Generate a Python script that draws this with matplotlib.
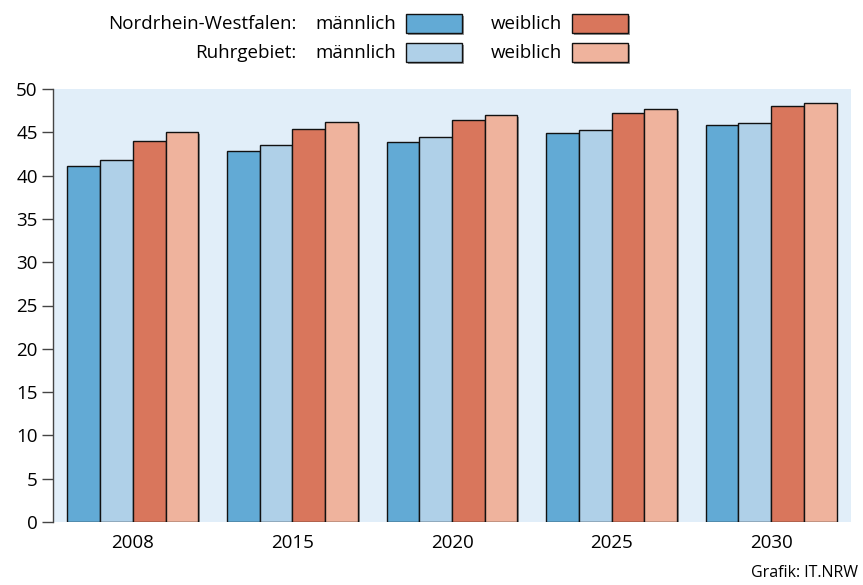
import numpy as np
import matplotlib
matplotlib.use('Agg')
import matplotlib.pyplot as plt
import matplotlib.patches as mpatches
import matplotlib.patheffects as pe

plt.rcParams['font.family'] = ['Open Sans', 'DejaVu Sans']

# data (average age, years)
years = ['2008', '2015', '2020', '2025', '2030']
nrw_m = [41.1, 42.8, 43.9, 44.9, 45.8]
ruhr_m = [41.8, 43.5, 44.5, 45.3, 46.1]
nrw_w = [44.0, 45.4, 46.4, 47.2, 48.0]
ruhr_w = [45.0, 46.2, 47.0, 47.7, 48.4]

series = [nrw_m, ruhr_m, nrw_w, ruhr_w]
colors = ['#62aad5', '#afd0e8', '#d9765c', '#efb39d']
bg = '#e1eef9'

fig = plt.figure(figsize=(8.63, 5.85), dpi=100)
ax = fig.add_axes([53 / 863, 1 - 522 / 585, 798 / 863, 433 / 585])
ax.set_facecolor(bg)

x = np.arange(len(years))
w = 0.205
shadow = [pe.SimplePatchShadow(offset=(1.2, -1.2), shadow_rgbFace='#555555', alpha=0.6), pe.Normal()]
for i, (vals, c) in enumerate(zip(series, colors)):
    bars = ax.bar(x + (i - 1.5) * w, vals, w, color=c, edgecolor='#111111', linewidth=1.0, zorder=3)
    for b in bars:
        b.set_path_effects(shadow)

ax.set_xlim(-0.5, 4.5)
ax.set_ylim(0, 50)
ax.set_yticks(range(0, 51, 5))
ax.set_xticks(x)
ax.set_xticklabels(years)

for s in ['top', 'right', 'bottom']:
    ax.spines[s].set_visible(False)
ax.spines['left'].set_color('#444444')
ax.spines['left'].set_linewidth(1.0)
ax.tick_params(axis='y', length=8, width=1.0, color='#444444', labelsize=13.5, pad=3)
ax.tick_params(axis='x', length=0, labelsize=13.5, pad=9)

# legend built by hand at the top
fs = 13.5
fig.text(296 / 863, 1 - 24 / 585, 'Nordrhein-Westfalen:', ha='right', va='center', fontsize=fs)
fig.text(296 / 863, 1 - 53 / 585, 'Ruhrgebiet:', ha='right', va='center', fontsize=fs)
rows = [(24, colors[0], colors[2]), (53, colors[1], colors[3])]
for yy, cm, cw in rows:
    fig.text(396 / 863, 1 - yy / 585, 'männlich', ha='right', va='center', fontsize=fs)
    fig.text(562 / 863, 1 - yy / 585, 'weiblich', ha='right', va='center', fontsize=fs)
    for x0, c in [(406, cm), (572, cw)]:
        r = mpatches.Rectangle((x0 / 863, 1 - (yy + 9) / 585), 56 / 863, 19 / 585,
                               transform=fig.transFigure, facecolor=c, edgecolor='#111111',
                               linewidth=1.0)
        r.set_path_effects(shadow)
        fig.patches.append(r)

fig.text(858 / 863, 1 - 573 / 585, 'Grafik: IT.NRW', ha='right', va='center', fontsize=11.5)

fig.savefig('out.png', dpi=100)
